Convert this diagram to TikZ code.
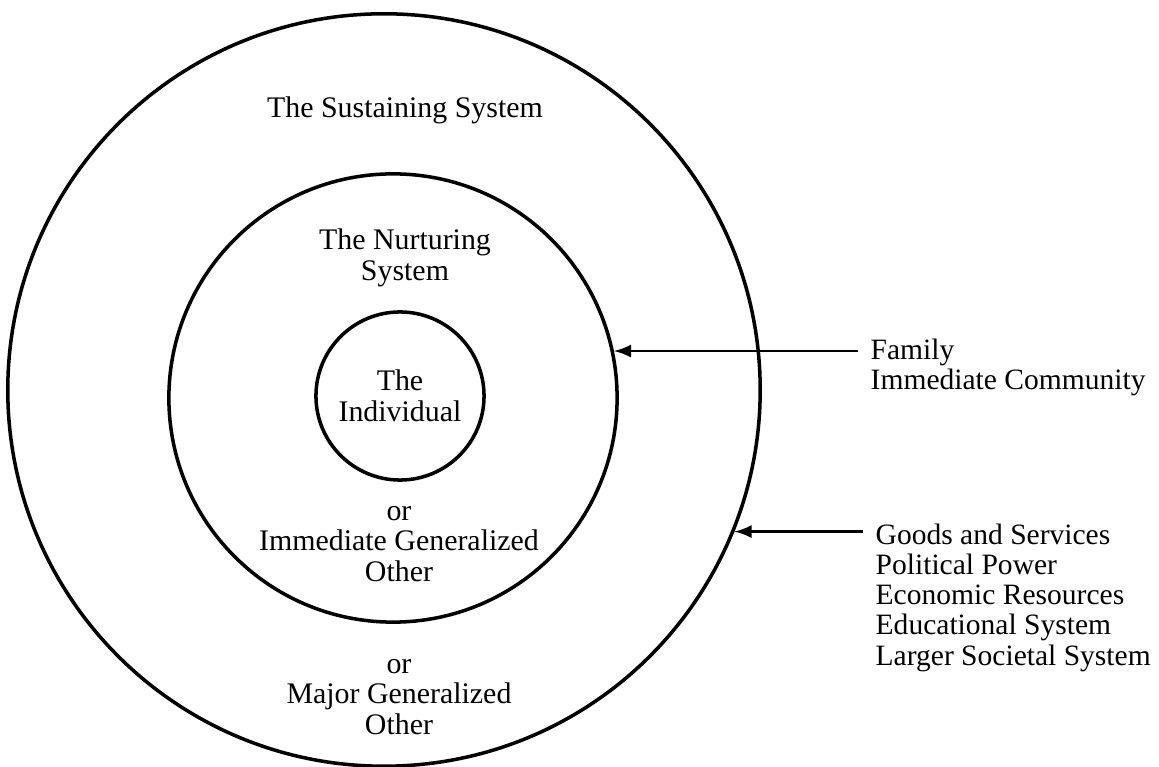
\documentclass[tikz,border=0pt]{standalone}
\usepackage{fontspec}
\setmainfont{Liberation Serif}
\usetikzlibrary{positioning}
\usetikzlibrary{arrows}

\begin{document}
\begin{tikzpicture}[x=0.01cm, y=-0.01cm,
    ring/.style={draw, circle, line width=1pt, inner sep=0pt},
    txt/.style={align=center, inner sep=0pt, font=\fontsize{8.5}{8.7}\selectfont},
    lst/.style={align=left, inner sep=0pt, anchor=north west, font=\fontsize{8.4}{8.6}\selectfont},
    arr/.style={-latex, line width=0.7pt}]
    % Page frame
    \useasboundingbox (0,0) rectangle (1159,767);

    % The three systems
    \node[ring, minimum size=7.52cm] (outer) at (384,390) {};
    \node[ring, minimum size=4.48cm] (mid) at (393,398) {};
    \node[ring, minimum size=1.68cm] (inner) at (400,396) {};

    % Labels inside the rings
    \node[txt] (sustain) at (405,110) {The Sustaining System};
    \node[txt] (nurture) at (405,258) {The Nurturing\\System};
    \node[txt] (indiv) at (400,396) {The\\Individual};
    \node[txt] (immed) at (399,544) {or\\Immediate Generalized\\Other};
    \node[txt] (major) at (399,697) {or\\Major Generalized\\Other};

    % Side lists
    \node[lst] (family) at (870,338) {Family\\Immediate Community};
    \node[lst] (goods) at (875,523) {Goods and Services\\Political Power\\Economic Resources\\Educational System\\Larger Societal System};

    % Arrows from the lists to the rings
    \coordinate (famtail) at ([xshift=-0.12cm]family.north west);
    \coordinate (goodstail) at ([xshift=-0.12cm]goods.north west);
    \draw[arr] (famtail |- mid.12.4) -- (mid.12.4);
    \draw[arr] (goodstail |- outer.-22.7) -- (outer.-22.7);
\end{tikzpicture}
\end{document}
